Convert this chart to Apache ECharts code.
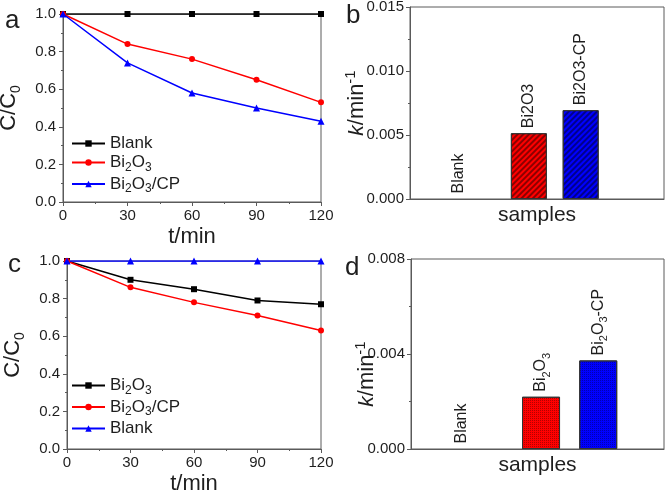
<!DOCTYPE html>
<html><head><meta charset="utf-8">
<script src="https://cdn.jsdelivr.net/npm/echarts@6/dist/echarts.min.js"></script>
<style>html,body{margin:0;padding:0;background:#fff}#c{width:671px;height:493px}</style>
</head><body><div id="c"></div>
<script>
// ---- data ----
const tMin = [0, 30, 60, 90, 120];
const aBlank = [1, 1, 1, 1, 1];
const aBi2O3 = [1, 0.84, 0.76, 0.65, 0.53];
const aBi2O3CP = [1, 0.74, 0.58, 0.50, 0.43];
const cBi2O3 = [1, 0.90, 0.85, 0.79, 0.77];
const cBi2O3CP = [1, 0.86, 0.78, 0.71, 0.63];
const cBlank = [1, 1, 1, 1, 1];
const barSamples = ['Blank', 'Bi2O3', 'Bi2O3-CP'];
const bPositions = [0.95, 2.34, 3.36];
const bRates = [0, 0.00514, 0.00694];
const dPositions = [0.99, 2.57, 3.70];
const dRates = [0, 0.0022, 0.00373];

const FONT = 'Liberation Sans, Arial, sans-serif';
const AX = '#5a5a5a';
const TXT = '#1e1e1e';
const chart = echarts.init(document.getElementById('c'), null, {renderer: 'canvas'});

const grids = [
  {left: 63, top: 14, width: 258, height: 188},
  {left: 410, top: 7, width: 254, height: 192},
  {left: 67, top: 261, width: 254, height: 188},
  {left: 411, top: 259, width: 253, height: 190}
].map(g => Object.assign(g, {show: true, borderColor: AX, borderWidth: 1, backgroundColor: 'transparent',
  containLabel: false, outerBoundsMode: 'none'}));

const nameRich = {
  n: {fontSize: 22, fontFamily: FONT, color: TXT, lineHeight: 28, verticalAlign: 'middle'},
  s: {fontSize: 14, fontFamily: FONT, color: TXT, lineHeight: 28, verticalAlign: 'bottom'},
  i: {fontSize: 21, fontFamily: FONT, color: TXT, fontStyle: 'italic', lineHeight: 28, verticalAlign: 'middle'},
  p: {fontSize: 15, fontFamily: FONT, color: TXT, lineHeight: 28, verticalAlign: 'top'}
};

function timeX(gi) {
  return {type: 'value', gridIndex: gi, min: 0, max: 120, interval: 30,
    name: 't/min', nameLocation: 'middle', nameGap: 24, nameMoveOverlap: false,
    nameTextStyle: {fontSize: 22, fontFamily: FONT, color: TXT, verticalAlign: 'top'},
    axisLine: {show: true, lineStyle: {color: AX}},
    axisTick: {show: true, length: 4, lineStyle: {color: AX}},
    minorTick: {show: true, splitNumber: 2, length: 2, lineStyle: {color: AX}},
    splitLine: {show: false},
    axisLabel: {fontSize: 15, fontFamily: FONT, color: TXT, margin: 6}};
}
function ratioY(gi) {
  return {type: 'value', gridIndex: gi, min: 0, max: 1, interval: 0.2,
    name: '{n|C/C}{s|0}', nameLocation: 'middle', nameGap: 40, nameMoveOverlap: false,
    nameTextStyle: {fontSize: 22, fontFamily: FONT, color: TXT, rich: nameRich},
    axisLine: {show: true, lineStyle: {color: AX}},
    axisTick: {show: true, length: 4, lineStyle: {color: AX}},
    minorTick: {show: true, splitNumber: 2, length: 2, lineStyle: {color: AX}},
    splitLine: {show: false},
    axisLabel: {fontSize: 15, fontFamily: FONT, color: TXT, margin: 7, formatter: v => v.toFixed(1)}};
}
function sampX(gi) {
  return {type: 'value', gridIndex: gi, min: 0, max: 5,
    name: 'samples', nameLocation: 'middle', nameGap: 6, nameMoveOverlap: false,
    nameTextStyle: {fontSize: 21, fontFamily: FONT, color: TXT, verticalAlign: 'top'},
    axisLine: {show: true, lineStyle: {color: AX}},
    axisTick: {show: false}, axisLabel: {show: false}, splitLine: {show: false}};
}
function rateY(gi, max, interval, gap, pad) {
  return {type: 'value', gridIndex: gi, min: 0, max: max, interval: interval,
    name: '{i|k}{n|/min}{p|-1}', nameLocation: 'middle', nameGap: gap, nameMoveOverlap: false,
    nameTextStyle: {fontSize: 21, fontFamily: FONT, color: TXT, rich: nameRich, padding: pad},
    axisLine: {show: true, lineStyle: {color: AX}},
    axisTick: {show: true, length: 4, lineStyle: {color: AX}},
    minorTick: {show: true, splitNumber: 2, length: 2, lineStyle: {color: AX}},
    splitLine: {show: false},
    axisLabel: {fontSize: 15, fontFamily: FONT, color: TXT, margin: 6, formatter: v => v.toFixed(3)}};
}

function lineSeries(name, data, color, symbol, xi) {
  return {type: 'line', name: name, xAxisIndex: xi, yAxisIndex: xi,
    data: tMin.map((t, k) => [t, data[k]]),
    symbol: symbol, symbolSize: symbol === 'triangle' ? 7 : 6,
    lineStyle: {color: color, width: 1.5}, itemStyle: {color: color}};
}

const hatch = {symbol: 'rect', symbolSize: 1, dashArrayX: [1, 0], dashArrayY: [1.5, 1.5], rotation: -Math.PI / 4, color: 'rgba(0,0,0,0.45)'};
const checker = {symbol: 'rect', symbolSize: 1, dashArrayX: [1, 1], dashArrayY: [1, 1], rotation: 0, color: 'rgba(0,0,0,0.3)'};
const barColors = ['#ffffff', '#ff0000', '#0000ff'];
const barLabelRich = {
  n: {fontSize: 16, fontFamily: FONT, color: TXT, lineHeight: 22, verticalAlign: 'middle'},
  s: {fontSize: 11, fontFamily: FONT, color: TXT, lineHeight: 22, verticalAlign: 'bottom'}
};

function barSeries(pos, vals, gi, decal, width, labels) {
  return {type: 'bar', xAxisIndex: gi, yAxisIndex: gi, barWidth: width,
    data: pos.map((p, k) => ({value: [p, vals[k]],
      itemStyle: {color: barColors[k], borderColor: k === 0 ? 'transparent' : '#333', borderWidth: 1, decal: k === 0 ? null : decal},
      label: {show: true, position: 'top', rotate: 90, align: 'left', verticalAlign: 'middle', distance: 5,
        fontSize: 16, fontFamily: FONT, color: TXT, rich: barLabelRich, formatter: labels[k]}})),
    label: {show: true, position: 'top', rotate: 90, align: 'left', verticalAlign: 'middle', distance: 5,
      fontSize: 16, fontFamily: FONT, color: TXT, rich: barLabelRich}};
}

const legNames = {
  'a:Blank': '{n|Blank}', 'a:Bi2O3': '{n|Bi}{s|2}{n|O}{s|3}', 'a:Bi2O3/CP': '{n|Bi}{s|2}{n|O}{s|3}{n|/CP}',
  'c:Bi2O3': '{n|Bi}{s|2}{n|O}{s|3}', 'c:Bi2O3/CP': '{n|Bi}{s|2}{n|O}{s|3}{n|/CP}', 'c:Blank': '{n|Blank}'
};
const legRich = {
  n: {fontSize: 17, fontFamily: FONT, color: TXT, lineHeight: 22, verticalAlign: 'middle'},
  s: {fontSize: 12, fontFamily: FONT, color: TXT, lineHeight: 22, verticalAlign: 'bottom'}
};
function legend(names, left, top, gap) {
  return {data: names, orient: 'vertical', left: left, top: top, itemGap: gap, itemWidth: 33, itemHeight: 8,
    selectedMode: false, formatter: n => legNames[n], textStyle: {rich: legRich}};
}

const option = {
  animation: false,
  grid: grids,
  xAxis: [timeX(0), sampX(1), timeX(2), sampX(3)],
  yAxis: [ratioY(0), rateY(1, 0.015, 0.005, 39, [0, 0, 0, 0]), ratioY(2), rateY(3, 0.008, 0.004, 30, [0, 40, 0, 0])],
  legend: [legend(['a:Blank', 'a:Bi2O3', 'a:Bi2O3/CP'], 66, 130, 2), legend(['c:Bi2O3', 'c:Bi2O3/CP', 'c:Blank'], 66, 372, 2)],
  series: [
    lineSeries('a:Blank', aBlank, '#000000', 'rect', 0),
    lineSeries('a:Bi2O3', aBi2O3, '#ff0000', 'circle', 0),
    lineSeries('a:Bi2O3/CP', aBi2O3CP, '#0000ff', 'triangle', 0),
    barSeries(bPositions, bRates, 1, hatch, 36, ['Blank', 'Bi2O3', 'Bi2O3-CP']),
    lineSeries('c:Bi2O3', cBi2O3, '#000000', 'rect', 2),
    lineSeries('c:Bi2O3/CP', cBi2O3CP, '#ff0000', 'circle', 2),
    lineSeries('c:Blank', cBlank, '#0000ff', 'triangle', 2),
    barSeries(dPositions, dRates, 3, checker, 38, ['Blank', '{n|Bi}{s|2}{n|O}{s|3}', '{n|Bi}{s|2}{n|O}{s|3}{n|-CP}'])
  ],
  graphic: [
    {type: 'text', left: 5, top: 8, style: {text: 'a', font: '26px ' + FONT, fill: TXT}},
    {type: 'text', left: 346, top: 3, style: {text: 'b', font: '26px ' + FONT, fill: TXT}},
    {type: 'text', left: 8, top: 252, style: {text: 'c', font: '26px ' + FONT, fill: TXT}},
    {type: 'text', left: 345, top: 255, style: {text: 'd', font: '26px ' + FONT, fill: TXT}}
  ]
};
chart.setOption(option);
</script></body></html>
